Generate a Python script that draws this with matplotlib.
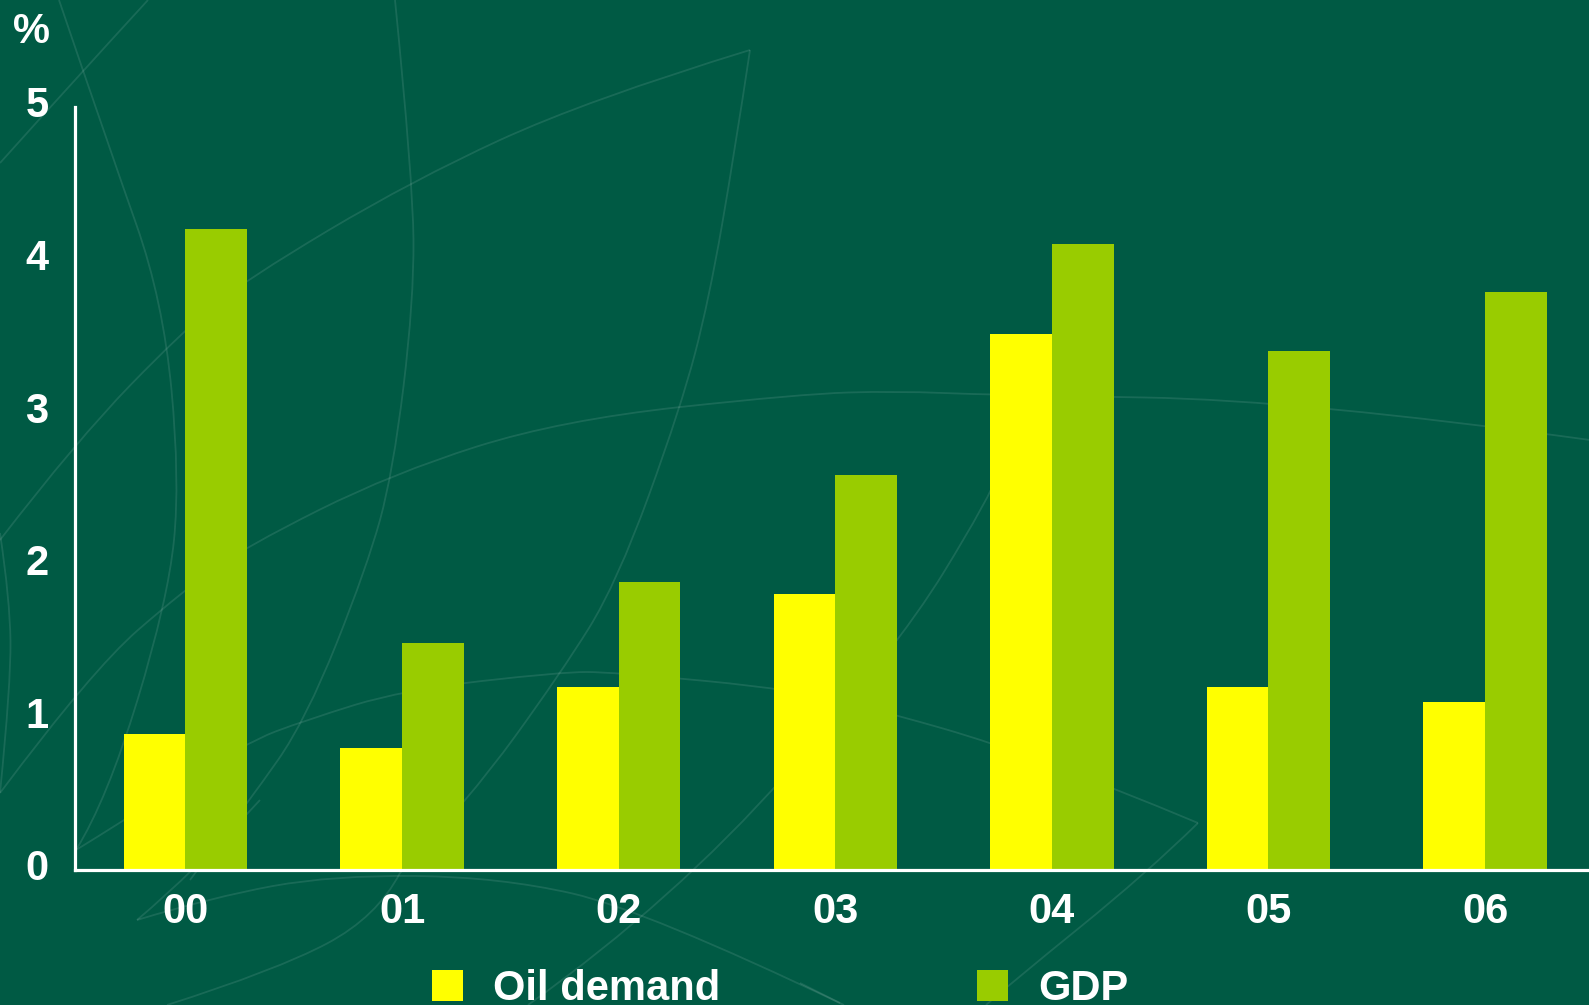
import numpy as np
import matplotlib
matplotlib.use("Agg")
import matplotlib.pyplot as plt
from matplotlib.path import Path
from matplotlib.patches import PathPatch
from matplotlib.transforms import ScaledTranslation

# growth rates, % per year
years = ["00", "01", "02", "03", "04", "05", "06"]
oil_demand = [0.89, 0.80, 1.20, 1.81, 3.51, 1.20, 1.10]
gdp = [4.20, 1.49, 1.89, 2.59, 4.10, 3.40, 3.79]
yticks = [0, 1, 2, 3, 4, 5]

bg = "#005a44"
yellow = "#ffff00"
lime = "#99cc00"

plt.rcParams["font.family"] = ["Liberation Sans", "DejaVu Sans"]
plt.rcParams["font.weight"] = "bold"

W, H = 1589, 1005
fig = plt.figure(figsize=(W / 100, H / 100), dpi=100, facecolor=bg)

# faint leaf / arc ornaments in the background (pixel coords, y down)
ornaments = [
    [(59, 0), (110, 150), (163, 300), (180, 480), (168, 600), (107, 800), (76, 850)],
    [(148, 0), (70, 85), (0, 163)],
    [(395, 0), (413, 180), (414, 300), (393, 473), (367, 567), (306, 720), (250, 800), (190, 880)],
    [(750, 50), (587, 100), (413, 180), (245, 280), (184, 330), (77, 440), (0, 540)],
    [(750, 50), (735, 150), (709, 300), (681, 407), (617, 583), (561, 673), (469, 800), (400, 873)],
    [(1590, 440), (1300, 400), (990, 395), (896, 391), (800, 394), (561, 420), (393, 473),
     (245, 547), (184, 590), (92, 670), (0, 793)],
    [(76, 850), (120, 823), (245, 743), (306, 720), (403, 690), (561, 672), (612, 672), (800, 690),
     (896, 715), (990, 742), (1112, 787), (1198, 823)],
    [(1198, 823), (1147, 873), (1011, 983), (986, 1005)],
    [(1000, 470), (990, 497), (896, 650), (675, 900), (528, 1005)],
    [(137, 920), (213, 897), (333, 875), (500, 877), (645, 910), (844, 1005)],
    [(137, 920), (193, 873), (260, 800)],
    [(167, 1005), (277, 970), (377, 917), (400, 873)],
    [(0, 533), (10, 600), (11, 683), (0, 793)],
    [(800, 983), (840, 1003)],
]

bg_ax = fig.add_axes([0, 0, 1, 1], zorder=0)
bg_ax.set_xlim(0, W)
bg_ax.set_ylim(H, 0)
bg_ax.axis("off")
for pts in ornaments:
    pts = np.array(pts, dtype=float)
    verts = [pts[0]]
    codes = [Path.MOVETO]
    for i in range(1, len(pts) - 1):
        mid = (pts[i] + pts[i + 1]) / 2
        verts += [pts[i], mid if i < len(pts) - 2 else pts[i + 1]]
        codes += [Path.CURVE3, Path.CURVE3]
    if len(pts) == 2:
        verts.append(pts[1])
        codes.append(Path.LINETO)
    bg_ax.add_patch(PathPatch(Path(verts, codes), facecolor="none",
                              edgecolor=(1, 1, 1, 0.10), lw=1.3))

ax = fig.add_axes([75 / W, 1 - 870 / H, 1 - 75 / W, (870 - 107) / H], zorder=1)
ax.set_facecolor("none")

x = np.arange(len(years))
w = 0.285
ax.bar(x - w / 2, oil_demand, w, color=yellow, label="Oil demand", zorder=2)
ax.bar(x + w / 2, gdp, w, color=lime, label="GDP", zorder=2)

ax.set_xlim(-0.51, 6.48)
ax.set_ylim(0, 5)
ax.set_xticks(x)
ax.set_xticklabels(years)
ax.set_yticks(yticks)
ax.tick_params(length=0, colors="white", labelsize=30)
ax.tick_params(axis="y", pad=19)
ax.tick_params(axis="x", pad=16)
lift = ScaledTranslation(0, 0.05, fig.dpi_scale_trans)
for lab in ax.get_yticklabels():
    lab.set_transform(lab.get_transform() + lift)
for lab in ax.get_xticklabels() + ax.get_yticklabels():
    lab.set_fontweight("bold")

for side in ["top", "right"]:
    ax.spines[side].set_visible(False)
for side in ["left", "bottom"]:
    ax.spines[side].set_color("white")
    ax.spines[side].set_linewidth(2.3)

fig.text(13 / W, 1 - 43 / H, "%", color="white", fontsize=30,
         fontweight="bold", ha="left", va="baseline")

leg = fig.legend(loc="center left", bbox_to_anchor=(432 / W, 1 - 989 / H),
                 ncol=2, frameon=False, fontsize=30, borderpad=0, borderaxespad=0,
                 handlelength=0.74, handleheight=0.74, handletextpad=0.72,
                 columnspacing=6.17)
for t in leg.get_texts():
    t.set_color("white")
    t.set_fontweight("bold")

fig.savefig("out.png", dpi=100, facecolor=bg)
